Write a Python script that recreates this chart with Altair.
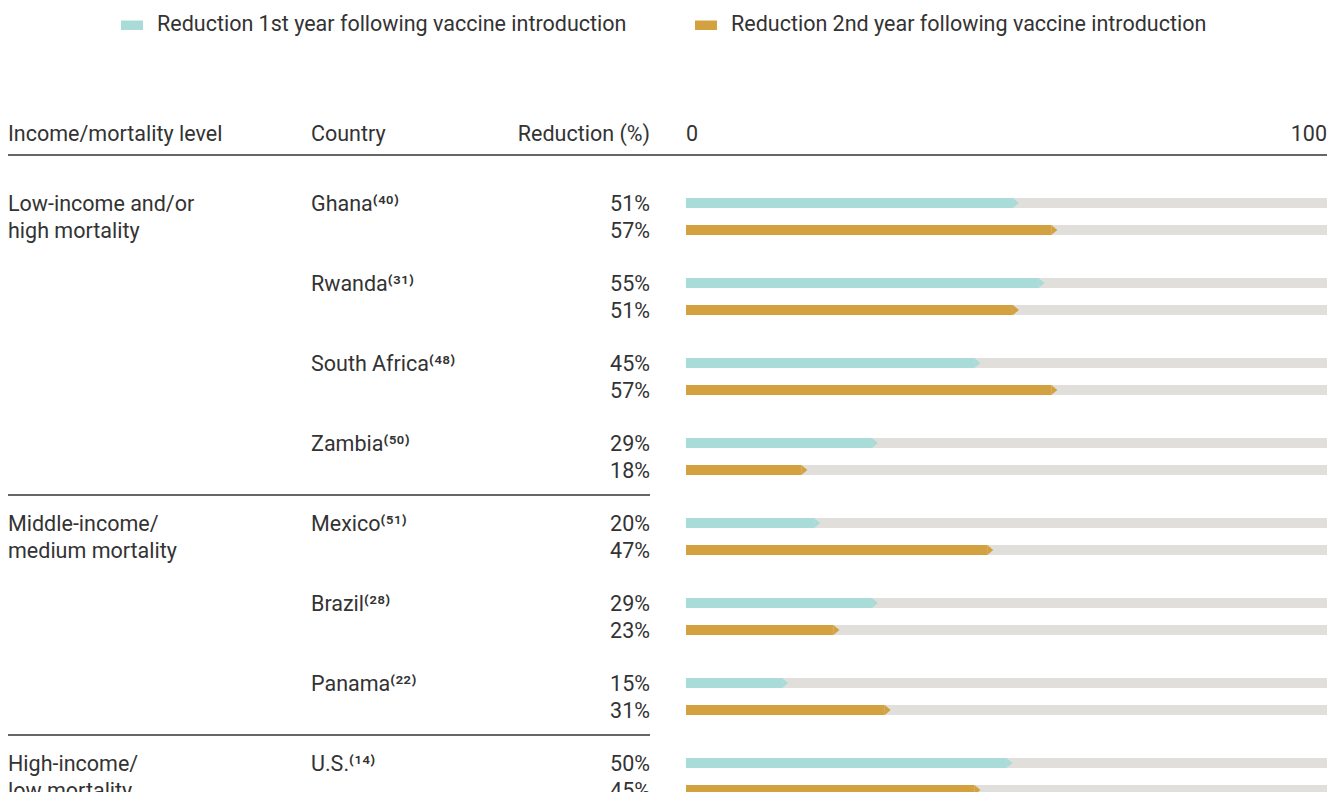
import altair as alt
import pandas as pd

# ---------------- data ----------------
countries = ["Ghana", "Rwanda", "South Africa", "Zambia", "Mexico", "Brazil", "Panama", "U.S."]
refs = ["40", "31", "48", "50", "51", "28", "22", "14"]
year1 = [51, 55, 45, 29, 20, 29, 15, 50]
year2 = [57, 51, 57, 18, 47, 23, 31, 45]
levels = ["Low-income and/or\nhigh mortality", "Middle-income/\nmedium mortality", "High-income/\nlow mortality"]
level_first = [0, 4, 7]
series = ["Reduction 1st year following vaccine introduction",
          "Reduction 2nd year following vaccine introduction"]
headers = ["Income/mortality level", "Country", "Reduction (%)"]

# ---------------- style ----------------
colors = ["#a9dcd9", "#d3a13f"]
track_color = "#e0dfdb"
ink = "#333333"
FONT = "Roboto"
FS = 21.5
W, H = 1319, 784
ROW = 80.0          # pixels per country block
GAP = 27.0 / ROW    # second bar offset (row units)
TOP = 195.0         # plot y of first bar
HEADER_POS = -70.0 / ROW
HEADER_LINE = -0.6
SEP_OFFSET = 0.35

SUP = str.maketrans("0123456789()", "⁰¹²³⁴⁵⁶⁷⁸⁹⁽⁾")

bars = []
for i, c in enumerate(countries):
    for j, (s, v) in enumerate(zip(series, (year1[i], year2[i]))):
        bars.append(dict(country=c, series=s, value=v, full=100, pos=i + j * GAP, label=f"{v}%"))
bars = pd.DataFrame(bars)

ctry = pd.DataFrame(dict(name=[f"{c}{('(' + r + ')').translate(SUP)}" for c, r in zip(countries, refs)],
                         pos=list(range(len(countries)))))

lv_rows = []
for k, lv in enumerate(levels):
    for j, line in enumerate(lv.split("\n")):
        lv_rows.append(dict(text=line, pos=level_first[k] + j * GAP))
lv_df = pd.DataFrame(lv_rows)

sep_df = pd.DataFrame(dict(pos=[f - SEP_OFFSET for f in level_first[1:]]))

yscale = alt.Scale(domain=[-TOP / ROW, (H - TOP) / ROW], range=[0, H], nice=False, zero=False, padding=0)
xscale = alt.Scale(domain=[0, 100], range=[678, 1319], nice=False)
cscale = alt.Scale(domain=series, range=colors)

Y = alt.Y("pos:Q", scale=yscale, axis=None)
legend = alt.Legend(title=None, orient="none", legendX=113, legendY=6, direction="horizontal",
                    symbolType="M-1,-0.43H1V0.43H-1Z", symbolSize=484, symbolStrokeWidth=0,
                    symbolOpacity=1, labelFont=FONT, labelFontSize=FS, labelColor=ink,
                    labelOffset=14, columnPadding=68, padding=0, labelLimit=0)

base = alt.Chart(bars)

track = base.mark_bar(size=10, color=track_color, orient="horizontal").encode(
    x=alt.X("full:Q", scale=xscale, axis=None), y=Y)

bar = base.mark_bar(size=10, orient="horizontal").encode(
    x=alt.X("value:Q", scale=xscale, axis=None), y=Y,
    color=alt.Color("series:N", scale=cscale, legend=legend))

tip = base.mark_point(shape="M0,-1L1.2,0L0,1Z", size=100, filled=True, opacity=1, strokeWidth=0).encode(
    x=alt.X("value:Q", scale=xscale, axis=None), y=Y,
    color=alt.Color("series:N", scale=cscale, legend=legend))

txt = dict(font=FONT, fontSize=FS, color=ink, baseline="middle", dy=2)

vals = base.mark_text(align="right", **txt).encode(x=alt.value(642), y=Y, text="label:N")

names = alt.Chart(ctry).mark_text(align="left", **txt).encode(x=alt.value(303), y=Y, text="name:N")

lvl = alt.Chart(lv_df).mark_text(align="left", **txt).encode(x=alt.value(0), y=Y, text="text:N")

hdr_y = alt.Y("pos:Q", scale=yscale, axis=None)
hdr_df = pd.DataFrame(dict(text=headers, pos=[HEADER_POS] * 3))
h1 = alt.Chart(hdr_df).transform_filter(alt.datum.text == headers[0]).mark_text(align="left", **txt).encode(
    x=alt.value(0), y=hdr_y, text="text:N")
h2 = alt.Chart(hdr_df).transform_filter(alt.datum.text == headers[1]).mark_text(align="left", **txt).encode(
    x=alt.value(303), y=hdr_y, text="text:N")
h3 = alt.Chart(hdr_df).transform_filter(alt.datum.text == headers[2]).mark_text(align="right", **txt).encode(
    x=alt.value(642), y=hdr_y, text="text:N")

tick_df = pd.DataFrame(dict(v=[0, 100], pos=[HEADER_POS] * 2, lab=["0", "100"]))
t0 = alt.Chart(tick_df).transform_filter(alt.datum.v == 0).mark_text(align="left", **txt).encode(
    x=alt.X("v:Q", scale=xscale, axis=None), y=hdr_y, text="lab:N")
t1 = alt.Chart(tick_df).transform_filter(alt.datum.v == 100).mark_text(align="right", **txt).encode(
    x=alt.X("v:Q", scale=xscale, axis=None), y=hdr_y, text="lab:N")

hline = alt.Chart(pd.DataFrame(dict(pos=[HEADER_LINE]))).mark_rule(color=ink, strokeWidth=1.3).encode(
    x=alt.value(0), x2=alt.value(1319), y=Y)
seps = alt.Chart(sep_df).mark_rule(color=ink, strokeWidth=1.3).encode(
    x=alt.value(0), x2=alt.value(642), y=Y)

chart = alt.layer(track, bar, tip, vals, names, lvl, h1, h2, h3, t0, t1, hline, seps).properties(
    width=W, height=H, autosize=alt.AutoSizeParams(type="none"), padding=0
).configure_view(stroke=None)

chart.save("out.html", embed_options={"renderer": "svg", "actions": False})
